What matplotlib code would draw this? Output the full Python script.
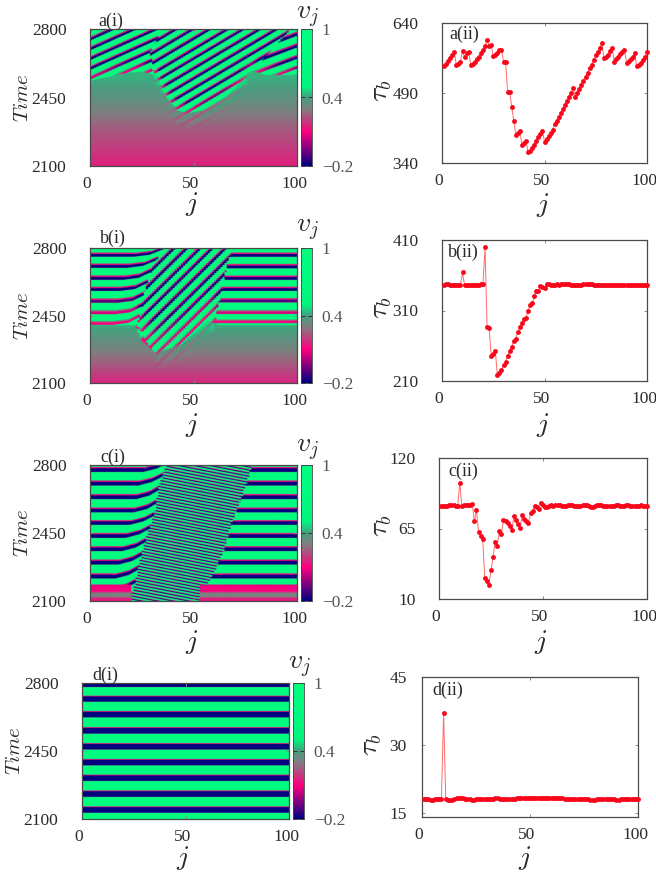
"""
recreate 4x2 panel figure: v_j spacetime maps (left) and tau_b vs j (right)
"""
#%% imports
import numpy as np
import matplotlib
matplotlib.use("Agg")
import matplotlib.pyplot as plt
from matplotlib.colors import LinearSegmentedColormap
from matplotlib.transforms import ScaledTranslation

plt.rcParams["font.family"] = ["Liberation Serif", "DejaVu Serif"]
plt.rcParams["mathtext.fontset"] = "cm"

W, H = 656, 873
TEXT = "#2a2a2a"
EDGE = "#4a4a4a"

#%% tau_b values
a_tau = [548,553,559,566,572,577,550,552,557,580,567,575,578,551,553,557,562,568,575,582,
         590,604,591,592,569,571,575,582,583,557,557,493,493,461,431,400,404,408,378,383,
         388,363,365,372,379,388,395,403,409,386,391,397,404,411,424,431,438,447,455,464,
         473,482,491,500,482,489,498,507,516,525,533,543,551,560,571,578,587,597,564,567,
         572,580,587,557,562,567,573,578,583,555,558,562,567,575,548,551,555,560,567,578]
b_tau = [346.5,347,347,346.5,346.5,346,346,346,346.5,364,346,346,346,346,346,346,346,346.5,347,
         348,400,286,285,246,248,253,218,221,226,232,237,246,253,258,267,270,279,287,292,
         298,300,310,318,321,330,338,337,345,343,342,348,347,346.5,346,346,347,346.5,347,347,
         347,347,347,346.5,346.5,346,346,346,346.5,347,347,347,347,347,346.5,346,345.5,345.5,346,346.5,
         346.5,346.5,346,345.5,345.5,345.5,346,346.5,346.5,346.5,346,345.5,345.5,346,346.5,346.5,346.5,346,346,346.5,346.5]
c_tau = [82.7,82.7,82.5,82.8,83,83.2,83,82.7,82.5,100.7,82.2,83,83.3,83,83.5,84.5,70.5,79.6,62.4,59.5,
         57,26.7,24,21,32.4,43,54.6,51.7,62.7,60.6,71.8,70.5,69,67,63.7,74.4,71.5,68.6,65.3,75.7,
         72.6,70.5,69,77,78.3,82.7,81.7,80.4,85,83.5,82,82,82.5,83,82.7,83,83.2,83,82.7,82.5,
         82.7,83,83.2,83,82.6,82.4,82.2,82.6,83.2,83.4,83,82.4,82,81.8,82.4,83,83.2,83,82.7,82.5,
         82.4,82.4,82.5,82.8,83.2,83,82.6,82.4,82.7,83,83.2,82.7,82.4,82.3,82.5,82.8,83,82.5,82.3,82.3]
d_tau = [18,18,18,17.95,17.95,18,18,18.05,18.1,37,18,17.8,17.75,17.8,18,18.2,18.25,18.25,18.2,18.1,
         18,18,17.95,17.95,18,18,18,18.05,18.05,18.1,18.1,18.1,18.15,18.2,18.2,18.1,18.05,18.05,18.05,18.1,
         18.1,18.1,18.15,18.2,18.2,18.25,18.25,18.25,18.25,18.25,18.25,18.25,18.25,18.25,18.25,18.25,18.25,18.25,18.25,18.25,
         18.25,18.25,18.2,18.2,18.2,18.1,18.1,18.05,18.05,18.05,18.05,18.05,18.05,18,18,18,18,17.95,17.95,17.95,
         18,18,18.05,18.05,18.05,18.05,18,18,18,17.95,17.95,18,18,18.05,18.1,18.1,18.15,18.1,18.05,18]

#%% map data: spike times per region, seams, onset fronts
a_left_spikes = [2247,2297,2347,2397,2447,2497,2547,2597,2647,2697,2747,2797,2847]
a_mid_spikes = [2280,2331,2382,2433,2484,2535,2586,2637,2688,2735,2790,2841,2892,2943,2994]
a_right_spikes = [2440,2500,2560,2602,2654,2713,2773,2833,2893,2953]
a_seam_t, a_seam_left = [2400,2560,2680,2800], [33,31,29,35]
a_seam_right = [76,76,84,97]
a_seam_right_t = [2400,2570,2650,2800]
a_front_j = [0,15,25,33,34,38,42,47,55,65,70,75,78,85,100]
a_front_t = [2535,2571,2583,2560,2514,2437,2386,2369,2386,2446,2497,2557,2588,2566,2566]
a_ramp_t, a_ramp_v = [2100,2300,2450,2550], [0.15,0.25,0.36,0.42]
a_depth_dt, a_depth_v = [0,20,60], [0.1,0.05,-0.2]

b_left_spikes = [2290,2350,2408,2463,2523,2585,2642,2705,2762,2820,2880]
b_mid_spikes = [2130,2195,2260,2324,2384,2452,2513,2582,2650,2711,2780,2845,2910,2975]
b_right_spikes = [2350,2418,2463,2525,2585,2642,2702,2762,2820]
b_seam_t, b_seam_left = [2250,2300,2400,2500,2600,2700,2770,2800], [32,28,23,25,27,30,34,36]
b_seam_right = [60,60,60,62,64,66,68,68]
b_front_j = [0,22,25,32,44,57,62,100]
b_front_t = [2400,2400,2320,2255,2298,2427,2401,2401]
b_ramp_t, b_ramp_v = [2100,2250,2400], [0.16,0.29,0.42]
b_depth_dt, b_depth_v = [0,70,160], [0.1,0.05,-0.2]
b_bend_dist, b_bend_t = [0,5,12], [40,10,0]

c_side_spikes = [2085,2155,2225,2297,2366,2434,2501,2565,2634,2704,2774,2844]
c_mid_spikes = [2030,2046,2062,2078,2094,2110,2126,2142,2158,2174,2190,2206,2222,2238,2254,2270,2286,2302,
                2318,2334,2350,2366,2382,2398,2414,2430,2446,2462,2478,2494,2510,2526,2542,2558,2574,2590,
                2606,2622,2638,2654,2670,2686,2702,2718,2734,2750,2766,2782,2798,2814,2830,2846,2862,2878]
c_seam_t = [2122,2225,2297,2434,2565,2704,2800]
c_seam_left = [20,22.5,24,27.4,31.5,33.5,37]
c_seam_right_t = [2130,2242,2366,2501,2634,2800]
c_seam_right = [53,60,65,68.5,73.4,78.4]
c_front_j = [0,19.5,20.5,52.5,53.5,100]
c_front_t = [2185,2185,2090,2090,2185,2185]
c_ramp_t = [2100,2112,2125,2138,2150,2185]
c_ramp_v = [0.12,0.15,0.32,0.32,0.1,0.08]
c_depth_dt, c_depth_v = [0,1000], [-0.2,-0.2]
c_bend_dist, c_bend_t = [0,4,10], [45,18,0]

d_spikes = [2064,2146,2228,2310,2390,2472,2554,2638,2718,2793,2870]

a_ticks = [340,490,640]
b_ticks = [210,310,410]
c_ticks = [10,65,120]
d_ticks = [15,30,45]
time_ticks = [2100,2450,2800]
j_ticks = [0,50,100]

#%% colours: gnuplot style palette of the maps
cmap = LinearSegmentedColormap.from_list("vj", [
    (0.0, "#00007f"), (0.25, "#ff007f"), (0.4167, "#7f7f7f"), (0.5, "#45a080"),
    (0.583, "#00f57f"), (1.0, "#00ff7f")])

def spike_blend(t_shift, spikes, w, rise, fall):
    """1 inside a dark spike band, about 0.7 on its pink shoulder, 0 in the green part"""
    pos = np.interp(t_shift, spikes, np.arange(len(spikes)))
    f = ((pos + 0.5) % 1) - 0.5
    return np.interp(f, [-0.5, -w/2-fall, -w/2, w/2, w/2+0.25*rise, w/2+0.75*rise, w/2+rise, 0.5],
                     [0, 0, 1, 1, 0.73, 0.66, 0, 0])

def build_field(left, mid=None, right=None, seam_l=None, seam_r=None, bend=None,
                front=None, ramp=None, depth=None, shape=(0.3, 0.1, 0.03), mid_shape=None):
    # left/mid/right are (spikes, slope, ref_j)
    jj, tt = np.meshgrid(np.arange(100) + 0.5, np.arange(2100, 2801))
    spikes, slope, ref = left
    shift = tt - slope * (jj - ref)
    green = 0.9
    if seam_l is None:
        return green + (-0.2 - green) * spike_blend(shift, spikes, *shape)
    edge_l = np.interp(tt, seam_l[0], seam_l[1])
    edge_r = np.interp(tt, seam_r[0], seam_r[1])
    if bend is not None:
        shift = shift - np.interp(edge_l - jj, bend[0], bend[1])
    blend = spike_blend(shift, spikes, *shape)

    m_spikes, m_slope, m_ref = mid
    m_blend = spike_blend(tt - m_slope * (jj - m_ref), m_spikes, *(mid_shape or shape))
    in_mid = (jj >= edge_l) & (jj < edge_r)
    blend = np.where(in_mid, m_blend, blend)

    r_spikes, r_slope, r_ref = right
    r_blend = spike_blend(tt - r_slope * (jj - r_ref), r_spikes, *shape)
    blend = np.where(jj >= edge_r, r_blend, blend)

    front_t = np.interp(jj, front[0], front[1])
    low = np.interp(tt - front_t, depth[0], depth[1])
    field = green + (low - green) * blend
    base = np.interp(tt, ramp[0], ramp[1])
    # faint ripples ahead of the wave inside the middle region
    fade = np.clip(1 - (front_t - tt) / 90, 0, 1)
    base = np.where(in_mid, base + 0.14 * fade * (0.5 - m_blend), base)
    return np.where(tt < front_t, base, field)

fields = [
    build_field((a_left_spikes, 4.76, 0), (a_mid_spikes, 6.3, 56.4), (a_right_spikes, 4.0, 100),
                (a_seam_t, a_seam_left), (a_seam_right_t, a_seam_right), None,
                (a_front_j, a_front_t), (a_ramp_t, a_ramp_v), (a_depth_dt, a_depth_v),
                shape=(0.2, 0.2, 0.05)),
    build_field((b_left_spikes, 0, 0), (b_mid_spikes, 10.6, 45), (b_right_spikes, 0, 0),
                (b_seam_t, b_seam_left), (b_seam_t, b_seam_right), (b_bend_dist, b_bend_t),
                (b_front_j, b_front_t), (b_ramp_t, b_ramp_v), (b_depth_dt, b_depth_v),
                shape=(0.2, 0.2, 0.05)),
    build_field((c_side_spikes, 0, 0), (c_mid_spikes, -2.1, 50), (c_side_spikes, 0, 0),
                (c_seam_t, c_seam_left), (c_seam_right_t, c_seam_right), (c_bend_dist, c_bend_t),
                (c_front_j, c_front_t), (c_ramp_t, c_ramp_v), (c_depth_dt, c_depth_v),
                shape=(0.24, 0.15, 0.04), mid_shape=(0.2, 0.3, 0.08)),
    build_field((d_spikes, 0, 0), shape=(0.33, 0.08, 0.03)),
]

#%% layout helpers, everything in reference pixels
fig = plt.figure(figsize=(W/100, H/100), dpi=100)

def px_axes(l, t, r, b):
    return fig.add_axes([l/W, 1 - b/H, (r-l)/W, (b-t)/H])

def px_text(x, y, s, size, rotation=0, color=TEXT):
    fig.text(x/W, 1 - y/H, s, fontsize=size, rotation=rotation, color=color,
             ha="center", va="center")

def style_axes(ax, xticks, yticks, ypad=17):
    ax.set_xticks(xticks)
    ax.set_yticks(yticks)
    ax.tick_params(direction="in", length=2.5, width=0.7, color="#8a8a8a", top=True, right=True,
                   labelsize=12.5, labelcolor=TEXT, pad=7)
    ax.tick_params(axis="y", pad=ypad)
    for s in ax.spines.values():
        s.set_color(EDGE)
        s.set_linewidth(0.9)
    shift = ScaledTranslation(-3/100, 0, fig.dpi_scale_trans)
    for lab in ax.get_xticklabels():
        lab.set_transform(lab.get_transform() + shift)

#%% left column
map_boxes = [(90,29,297,166), (90,248,297,383), (90,465,297,601), (82,683,289,819)]
bar_x = [(301,312), (301,312), (301,312), (293,304)]
map_labels = ["a(i)", "b(i)", "c(i)", "d(i)"]
map_label_xy = [(111,21.5), (113,238), (113,457), (105,675)]
j_label_xy = [(192,204), (192,425), (192,642), (183,858)]
bar_label_y = [17, 230, 450, 667]

gradient = np.linspace(-0.2, 1, 256).reshape(-1, 1)
for box, bx, field, lab, lxy, jxy, vy in zip(map_boxes, bar_x, fields, map_labels, map_label_xy,
                                             j_label_xy, bar_label_y):
    ax = px_axes(*box)
    ax.imshow(field, origin="lower", aspect="auto", cmap=cmap, vmin=-0.2, vmax=1,
              extent=[0, 100, 2100, 2800], interpolation="antialiased")
    style_axes(ax, j_ticks, time_ticks)
    px_text(lxy[0], lxy[1], lab, 13)
    px_text(jxy[0], jxy[1], r"$j$", 20)
    px_text(box[0] - 66, (box[1] + box[3]) / 2, r"$Time$", 15, rotation=90)

    cax = px_axes(bx[0], box[1], bx[1], box[3])
    cax.imshow(gradient, origin="lower", aspect="auto", cmap=cmap, vmin=-0.2, vmax=1,
               extent=[0, 1, -0.2, 1])
    cax.set_xticks([])
    cax.set_yticks([-0.2, 0.4, 1])
    cax.set_yticklabels(["\u22120.2", "0.4", "1"])
    cax.tick_params(axis="y", direction="in", length=3, width=0.7, color="#333333", right=True,
                    left=True, labelleft=False, labelright=True, labelsize=12.5,
                    labelcolor="#555555", pad=7)
    for s in cax.spines.values():
        s.set_color("#444444")
        s.set_linewidth(0.6)
    px_text(bx[0] + 7, vy, r"$v_j$", 20)

#%% right column
tau_boxes = [(442,23,647,163), (442,240,647,381), (439,458,647,599), (422,677,638,817)]
tau_series = [a_tau, b_tau, c_tau, d_tau]
tau_ticks = [a_ticks, b_ticks, c_ticks, d_ticks]
tau_lims = [(340,640), (210,410), (10,120), (14.1,45)]
tau_pads = [17, 17, 17, 11]
tau_labels = ["a(ii)", "b(ii)", "c(ii)", "d(ii)"]
tau_label_xy = [(464,34), (463,252), (463,471), (448,690)]
tau_j_xy = [(543,205), (543,425), (541,642), (525,858)]
tau_name_xy = [(382,91), (382,308), (382,526), (371,745)]

for box, vals, ticks, lim, pad, lab, lxy, jxy, nxy in zip(tau_boxes, tau_series, tau_ticks, tau_lims, tau_pads,
                                                          tau_labels, tau_label_xy, tau_j_xy, tau_name_xy):
    ax = px_axes(*box)
    ax.plot(np.arange(1, len(vals) + 1), vals, color="#ff6a6a", lw=0.7, zorder=2)
    ax.plot(np.arange(1, len(vals) + 1), vals, ls="none", marker="o", ms=3.5, mfc="#f8061a",
            mec="none", zorder=3, clip_on=False)
    ax.set_xlim(0, 100)
    ax.set_ylim(*lim)
    style_axes(ax, j_ticks, ticks, ypad=pad)
    px_text(lxy[0], lxy[1], lab, 13)
    px_text(jxy[0], jxy[1], r"$j$", 20)
    px_text(nxy[0], nxy[1], r"$\tau_b$", 20, rotation=90)

fig.savefig("out.png", dpi=100)
